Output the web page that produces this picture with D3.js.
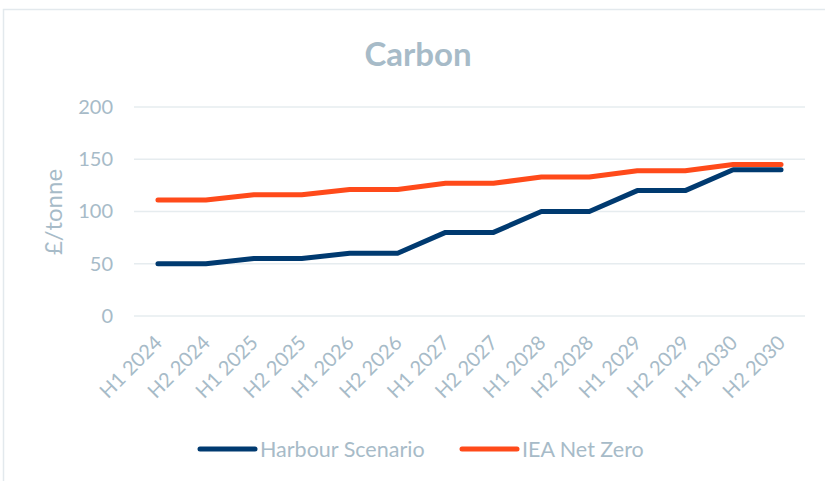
<!DOCTYPE html>
<html>
<head>
<meta charset="utf-8">
<script src="https://cdn.jsdelivr.net/npm/d3@7"></script>
<style>
  body { margin: 0; background: #fff; }
  text { font-family: Lato, "Open Sans", sans-serif; }
</style>
</head>
<body>
<div id="chart"></div>
<script>
// data
var periods = ["H1 2024", "H2 2024", "H1 2025", "H2 2025", "H1 2026", "H2 2026", "H1 2027",
               "H2 2027", "H1 2028", "H2 2028", "H1 2029", "H2 2029", "H1 2030", "H2 2030"];
var harbour = [50, 50, 55, 55, 60, 60, 80, 80, 100, 100, 120, 120, 140, 140];
var ieaNetZero = [111, 111, 116, 116, 121, 121, 127, 127, 133, 133, 139, 139, 145, 145];
var yTicks = [0, 50, 100, 150, 200];
var seriesNames = ["Harbour Scenario", "IEA Net Zero"];

var width = 825, height = 481;
var plot = {left: 134, right: 805, top: 107, bottom: 316};
var textColor = "#a7bbc8";
var colors = ["#003a70", "#ff4a1a"];

var svg = d3.select("#chart").append("svg")
    .attr("width", width)
    .attr("height", height);

// light frame (top and left edges visible)
svg.append("path")
    .attr("d", "M3.5,490 L3.5,9.5 L830,9.5")
    .attr("fill", "none")
    .attr("stroke", "#e3e9ed")
    .attr("stroke-width", 1.5);

var x = d3.scalePoint()
    .domain(periods)
    .range([plot.left, plot.right])
    .padding(0.5);

var y = d3.scaleLinear()
    .domain([0, 200])
    .range([plot.bottom, plot.top]);

// gridlines
svg.append("g")
  .selectAll("line")
  .data(yTicks)
  .enter().append("line")
    .attr("x1", plot.left)
    .attr("x2", plot.right)
    .attr("y1", d => y(d))
    .attr("y2", d => y(d))
    .attr("stroke", "#e6ecef")
    .attr("stroke-width", 1.5);

// y axis labels
var yAxis = d3.axisLeft(y).tickValues(yTicks).tickSize(0).tickPadding(21);
svg.append("g")
    .attr("transform", "translate(" + plot.left + ",0)")
    .call(yAxis)
    .call(g => g.select(".domain").remove())
    .selectAll("text")
      .attr("fill", textColor)
      .style("font-size", "20px")
      .style("font-family", "Lato, sans-serif");

// x axis labels (rotated)
var xAxis = d3.axisBottom(x).tickSize(0);
svg.append("g")
    .attr("transform", "translate(0," + plot.bottom + ")")
    .call(xAxis)
    .call(g => g.select(".domain").remove())
    .selectAll("text")
      .attr("fill", textColor)
      .style("font-size", "20px")
      .style("font-family", "Lato, sans-serif")
      .style("text-anchor", "end")
      .attr("dy", null)
      .attr("y", 0)
      .attr("transform", d => "translate(5,28) rotate(-45)");

// y axis title
svg.append("text")
    .attr("transform", "translate(62,212) rotate(-90)")
    .attr("text-anchor", "middle")
    .attr("fill", textColor)
    .style("font-size", "24px")
    .text("£/tonne");

// title
svg.append("text")
    .attr("x", 418)
    .attr("y", 66)
    .attr("text-anchor", "middle")
    .attr("fill", textColor)
    .style("font-size", "33px")
    .style("font-weight", "bold")
    .text("Carbon");

// lines
var line = d3.line()
    .x((d, i) => x(periods[i]))
    .y(d => y(d));

[harbour, ieaNetZero].forEach(function(values, i) {
    svg.append("path")
        .datum(values)
        .attr("d", line)
        .attr("fill", "none")
        .attr("stroke", colors[i])
        .attr("stroke-width", 5)
        .attr("stroke-linecap", "round")
        .attr("stroke-linejoin", "round");
});

// legend
var legendX = [200, 462];
var legend = svg.append("g");
seriesNames.forEach(function(name, i) {
    legend.append("line")
        .attr("x1", legendX[i])
        .attr("x2", legendX[i] + 55)
        .attr("y1", 449)
        .attr("y2", 449)
        .attr("stroke", colors[i])
        .attr("stroke-width", 5)
        .attr("stroke-linecap", "round");
    legend.append("text")
        .attr("x", legendX[i] + 60)
        .attr("y", 457)
        .attr("fill", textColor)
        .style("font-size", "21.5px")
        .text(name);
});
</script>
</body>
</html>
